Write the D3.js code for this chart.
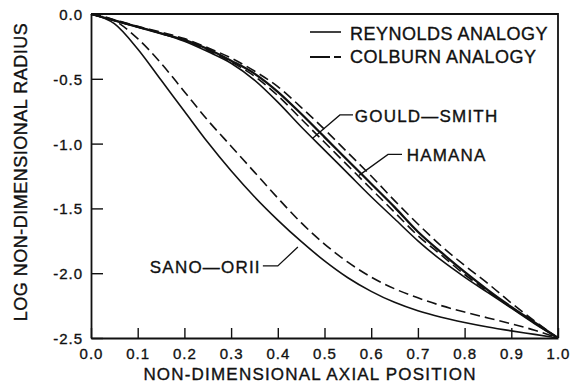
<!DOCTYPE html>
<html>
<head>
<meta charset="utf-8">
<script src="https://cdn.jsdelivr.net/npm/d3@7"></script>
<style>
  body { margin: 0; background: #fff; }
  text { font-family: "Liberation Sans", Arial, sans-serif; fill: #111; stroke: #111; stroke-width: 0.35px; }
</style>
</head>
<body>
<div id="chart"></div>
<script>
// axial positions shared by all curves
const axialPos = [0, 0.05, 0.1, 0.15, 0.2, 0.25, 0.3, 0.35, 0.4, 0.45, 0.5,
  0.55, 0.6, 0.65, 0.7, 0.75, 0.8, 0.85, 0.9, 0.95, 1.0];

const gouldReynolds = [0, -0.05, -0.10, -0.15, -0.21, -0.29, -0.38, -0.51, -0.68, -0.87, -1.05,
  -1.23, -1.41, -1.58, -1.75, -1.90, -2.03, -2.15, -2.27, -2.39, -2.5];
const gouldColburn = [0, -0.05, -0.10, -0.15, -0.205, -0.28, -0.37, -0.48, -0.63, -0.81, -0.99,
  -1.17, -1.35, -1.53, -1.71, -1.86, -2.01, -2.14, -2.265, -2.385, -2.5];
const hamanaReynolds = [0, -0.05, -0.10, -0.15, -0.20, -0.27, -0.36, -0.46, -0.60, -0.77, -0.95,
  -1.13, -1.31, -1.49, -1.68, -1.84, -1.99, -2.13, -2.26, -2.38, -2.5];
const hamanaColburn = [0, -0.045, -0.095, -0.14, -0.19, -0.26, -0.34, -0.44, -0.56, -0.72, -0.89,
  -1.07, -1.25, -1.44, -1.62, -1.79, -1.94, -2.08, -2.23, -2.37, -2.5];
const sanoReynolds = [0, -0.075, -0.27, -0.51, -0.75, -0.99, -1.21, -1.41, -1.59, -1.755, -1.905,
  -2.035, -2.14, -2.225, -2.29, -2.34, -2.38, -2.415, -2.445, -2.472, -2.5];
const sanoColburn = [0, -0.05, -0.19, -0.38, -0.60, -0.82, -1.02, -1.22, -1.42, -1.61, -1.775,
  -1.915, -2.03, -2.12, -2.19, -2.25, -2.30, -2.345, -2.39, -2.44, -2.5];

const xTicks = [0, 0.1, 0.2, 0.3, 0.4, 0.5, 0.6, 0.7, 0.8, 0.9, 1.0];
const yTicks = [0, -0.5, -1.0, -1.5, -2.0, -2.5];

const width = 577, height = 390;
const margin = { top: 14, right: 19, bottom: 52, left: 91 };

const svg = d3.select('#chart').append('svg')
  .attr('width', width).attr('height', height);

const x = d3.scaleLinear().domain([0, 1]).range([margin.left, width - margin.right]);
const y = d3.scaleLinear().domain([0, -2.5]).range([margin.top, height - margin.bottom]);

// frame (top + right)
svg.append('path')
  .attr('d', `M${x(0)},${y(0)}H${x(1)}V${y(-2.5)}`)
  .attr('fill', 'none').attr('stroke', '#111').attr('stroke-width', 1.8);

const xAxis = svg.append('g')
  .attr('transform', `translate(0,${y(-2.5)})`)
  .call(d3.axisBottom(x).tickValues(xTicks).tickFormat(d3.format('.1f'))
    .tickSize(-10).tickSizeOuter(0).tickPadding(10));

const yAxis = svg.append('g')
  .attr('transform', `translate(${x(0)},0)`)
  .call(d3.axisLeft(y).tickValues(yTicks).tickFormat(d => d3.format('.1f')(d).replace('−', '-'))
    .tickSize(-12).tickSizeOuter(0).tickPadding(8));

[xAxis, yAxis].forEach(g => {
  g.select('.domain').attr('stroke', '#111').attr('stroke-width', 1.8);
  g.selectAll('.tick line').attr('stroke', '#111').attr('stroke-width', 1.4);
  g.selectAll('.tick text').attr('font-size', 15).attr('letter-spacing', 1)
    .attr('font-family', '"Liberation Sans", Arial, sans-serif').attr('fill', '#111');
});
yAxis.selectAll('.tick text').attr('dy', '0.36em');

// axis titles
svg.append('text')
  .attr('x', 310).attr('y', 380)
  .attr('text-anchor', 'middle')
  .attr('font-size', 17).attr('letter-spacing', 1.2)
  .text('NON-DIMENSIONAL AXIAL POSITION');

svg.append('text')
  .attr('transform', 'translate(27,172) rotate(-90)')
  .attr('text-anchor', 'middle')
  .attr('font-size', 18).attr('letter-spacing', 0.5)
  .text('LOG NON-DIMENSIONAL RADIUS');

// curves
const line = d3.line()
  .x(d => x(d[0])).y(d => y(d[1]))
  .curve(d3.curveMonotoneX);

const series = [
  { vals: gouldReynolds, dash: null, w: 1.6 },
  { vals: gouldColburn, dash: '10,5', w: 1.6 },
  { vals: hamanaReynolds, dash: null, w: 2.3 },
  { vals: hamanaColburn, dash: '10,5', w: 1.6 },
  { vals: sanoReynolds, dash: null, w: 1.6 },
  { vals: sanoColburn, dash: '10,5', w: 1.6 }
];

svg.append('g').selectAll('path')
  .data(series)
  .enter()
  .append('path')
  .attr('d', d => line(axialPos.map((p, i) => [p, d.vals[i]])))
  .attr('fill', 'none')
  .attr('stroke', '#111')
  .attr('stroke-width', d => d.w)
  .attr('stroke-dasharray', d => d.dash);

// legend
const legend = svg.append('g');
legend.append('line').attr('x1', 310).attr('x2', 341).attr('y1', 32).attr('y2', 32)
  .attr('stroke', '#111').attr('stroke-width', 1.6);
legend.append('line').attr('x1', 310).attr('x2', 341).attr('y1', 57).attr('y2', 57)
  .attr('stroke', '#111').attr('stroke-width', 1.8).attr('stroke-dasharray', '20,4,7');
legend.append('text').attr('x', 350).attr('y', 40)
  .attr('font-size', 18).attr('letter-spacing', 0.5).text('REYNOLDS ANALOGY');
legend.append('text').attr('x', 350).attr('y', 63)
  .attr('font-size', 18).attr('letter-spacing', 0.5).text('COLBURN ANALOGY');

// annotations (anchors in data units)
const notes = [
  { text: 'GOULD\u2014SMITH', pts: [[0.474, -0.96], [0.533, -0.779], [0.561, -0.779]], tx: 0.565, ty: -0.833 },
  { text: 'HAMANA', pts: [[0.574, -1.245], [0.636, -1.083], [0.666, -1.083]], tx: 0.676, ty: -1.134 },
  { text: 'SANO\u2014ORII', pts: [[0.368, -1.944], [0.400, -1.944], [0.443, -1.798]], tx: 0.126, ty: -1.998 }
];

const ann = svg.append('g');
notes.forEach(n => {
  ann.append('path')
    .attr('d', d3.line().x(d => x(d[0])).y(d => y(d[1]))(n.pts))
    .attr('fill', 'none').attr('stroke', '#111').attr('stroke-width', 1.3);
  ann.append('text')
    .attr('x', x(n.tx)).attr('y', y(n.ty))
    .attr('font-size', 17).attr('letter-spacing', 1.2)
    .text(n.text);
});
</script>
</body>
</html>
